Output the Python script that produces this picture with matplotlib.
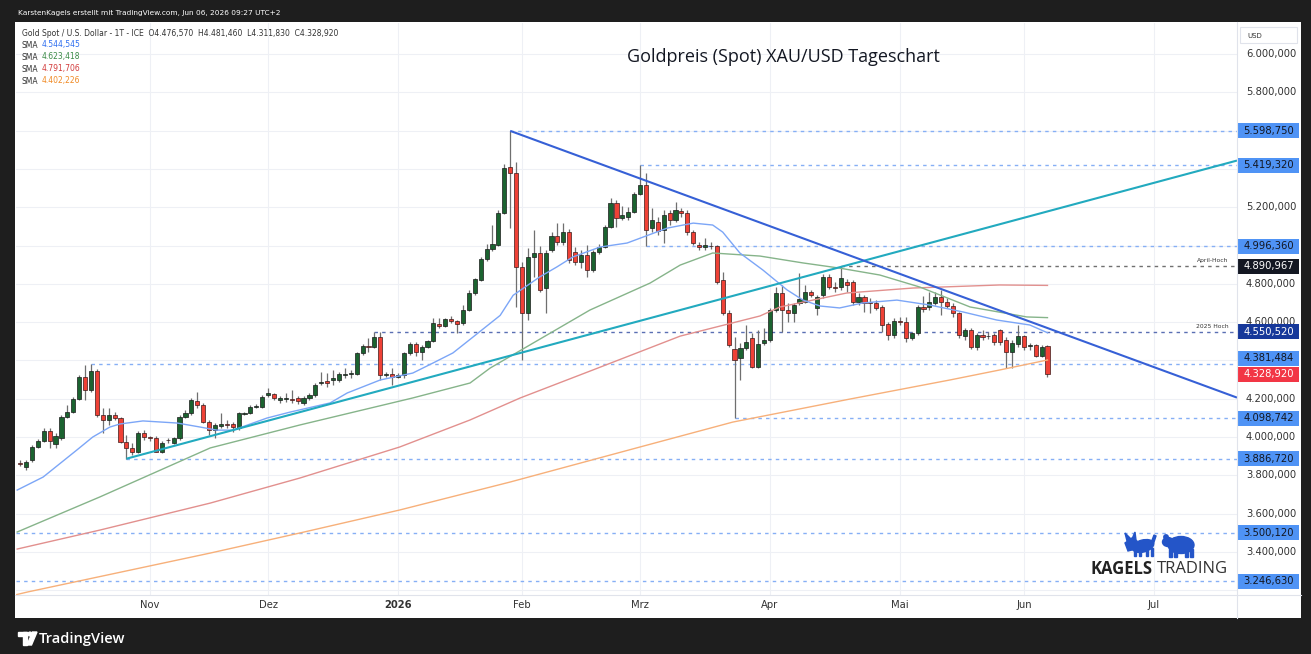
import numpy as np
import pandas as pd
import matplotlib
matplotlib.use("Agg")
import matplotlib.pyplot as plt
from matplotlib.patches import Rectangle, Polygon, Ellipse, Circle
from matplotlib.transforms import blended_transform_factory

W, H, DPI = 1311, 654, 100

# ---------------- data ----------------
holidays = ["2025-12-25", "2026-01-01"]
first_bar = "2025-10-02"
last_bar = "2026-06-05"

opens = [
    3866, 3843, 3880, 3948, 3979, 4031, 3963, 3995, 4104, 4130, 4198, 4313, 4245, 4345, 4115, 4089, 4115, 4099, 3974, 3942, 3922, 4021,
    4000, 3995, 3922, 3985, 3969, 3995, 4104, 4125, 4188, 4167, 4078, 4036, 4057, 4066, 4068, 4047, 4120, 4125, 4157, 4157,
    4219, 4224, 4193, 4200, 4198, 4204, 4177, 4204, 4219, 4282, 4292, 4298, 4298, 4324, 4329, 4329, 4439, 4475, 4470, 4522, 4324, 4329,
    4313, 4324, 4439, 4486, 4444, 4470, 4501, 4590, 4580, 4616, 4606, 4595, 4665, 4752, 4820, 4930, 4982, 5003, 5170, 5410, 5379,
    4888, 4648, 4940, 4961, 4778, 4976, 5050, 5018, 5070, 4966, 4914, 4950, 4872, 4966, 4992, 5097, 5222, 5144, 5149, 5175,
    5269, 5316, 5091, 5123, 5081, 5170, 5133, 5180, 5170, 5070, 5003, 4992, 5000, 4997, 4820, 4648, 4460, 4412, 4465, 4517, 4366, 4491,
    4507, 4663, 4752, 4663, 4648, 4700, 4705, 4757, 4674, 4742, 4836, 4783, 4783, 4809, 4809, 4705, 4731, 4705, 4700, 4679, 4590, 4533,
    4602, 4600, 4517, 4543, 4679, 4679, 4700, 4731, 4705, 4684, 4648, 4527, 4559, 4470, 4533, 4525, 4533, 4559, 4507, 4444, 4486,
    4527, 4475, 4480, 4423, 4476.57,
]
highs = [
    3880, 3880, 3958, 3990, 4047, 4047, 4021, 4115, 4167, 4209, 4324, 4376, 4381.484, 4355, 4151, 4151, 4130, 4104, 4010, 3969, 4031, 4036,
    4005, 4005, 3979, 3995, 4000, 4115, 4141, 4204, 4235, 4177, 4089, 4073, 4125, 4089, 4078, 4130, 4130, 4167, 4170, 4219,
    4256, 4230, 4214, 4230, 4245, 4214, 4214, 4230, 4282, 4339, 4334, 4350, 4339, 4360, 4350, 4444, 4486, 4517, 4550.52, 4548, 4339, 4360,
    4334, 4444, 4496, 4496, 4480, 4507, 4621, 4621, 4621, 4630, 4611, 4690, 4768, 4830, 4940, 5008, 5107, 5185, 5425, 5598.75, 5436,
    4914, 4987, 5081, 4997, 4976, 5070, 5117, 5117, 5086, 4992, 4976, 5003, 4976, 5008, 5107, 5248, 5238, 5206, 5201, 5279,
    5419.32, 5379, 5196, 5149, 5185, 5185, 5227, 5196, 5185, 5081, 5018, 5039, 5020, 5003, 4862, 4663, 4522, 4491, 4585, 4543, 4559, 4569,
    4674, 4783, 4794, 4700, 4700, 4856, 4794, 4768, 4742, 4851, 4851, 4809, 4890.967, 4825, 4820, 4752, 4742, 4726, 4715, 4689, 4600, 4621,
    4627, 4627, 4548, 4689, 4736, 4757, 4757, 4768, 4726, 4700, 4653, 4569, 4569, 4543, 4559, 4548, 4543, 4564, 4522, 4507, 4585,
    4533, 4491, 4486, 4480, 4481.46,
]
lows = [
    3850, 3830, 3869, 3942, 3974, 3942, 3942, 3984, 4099, 4125, 4193, 4193, 4235, 4104, 4021, 4063, 4089, 3969, 3886.72, 3906, 3917, 3984,
    3979, 3920, 3918, 3969, 3965, 3984, 4099, 4115, 4151, 4073, 4010, 3995, 4047, 4047, 4026, 4036, 4115, 4120, 4150, 4151,
    4209, 4193, 4177, 4183, 4177, 4172, 4167, 4193, 4209, 4271, 4261, 4271, 4287, 4308, 4308, 4324, 4428, 4444, 4465, 4298, 4313, 4271,
    4308, 4308, 4428, 4423, 4402, 4465, 4496, 4569, 4575, 4595, 4543, 4585, 4658, 4742, 4815, 4920, 4971, 4997, 5165, 5091, 4679,
    4402, 4611, 4836, 4757, 4648, 4966, 5003, 5003, 4909, 4898, 4882, 4836, 4862, 4956, 4987, 5091, 5097, 5133, 5133, 5170,
    5264, 4996.36, 5070, 5055, 5013, 5107, 5123, 5149, 5055, 5003, 4976, 4976, 4980, 4799, 4637, 4470, 4098.742, 4298, 4454, 4360, 4360, 4480,
    4496, 4653, 4548, 4600, 4600, 4689, 4700, 4731, 4637, 4726, 4773, 4757, 4768, 4757, 4689, 4689, 4653, 4648, 4663, 4548, 4507, 4517,
    4585, 4496, 4507, 4533, 4653, 4663, 4689, 4637, 4674, 4627, 4517, 4507, 4460, 4454, 4507, 4512, 4480, 4480, 4360, 4360, 4470,
    4454, 4454, 4418, 4418, 4311.83,
]
closes = [
    3858, 3869, 3948, 3979, 4031, 3979, 4005, 4104, 4130, 4198, 4313, 4245, 4345, 4115, 4089, 4115, 4099, 3974, 3942, 3922, 4021, 4000,
    3995, 3922, 3969, 3982, 3995, 4104, 4125, 4193, 4167, 4078, 4036, 4063, 4068, 4064, 4052, 4125, 4125, 4157, 4160, 4209,
    4230, 4204, 4204, 4204, 4193, 4188, 4204, 4219, 4271, 4287, 4282, 4308, 4329, 4329, 4331, 4439, 4475, 4470, 4522, 4324, 4329, 4313,
    4324, 4439, 4486, 4444, 4470, 4501, 4595, 4580, 4616, 4606, 4590, 4665, 4752, 4825, 4930, 4982, 5008, 5170, 5405, 5379, 4888,
    4648, 4940, 4961, 4768, 4961, 5050, 5018, 5070, 4924, 4914, 4950, 4872, 4966, 4992, 5097, 5222, 5144, 5159, 5175, 5269,
    5316, 5081, 5133, 5076, 5159, 5133, 5185, 5170, 5070, 5013, 4992, 5003, 4995, 4809, 4648, 4480, 4402, 4465, 4496, 4366, 4486, 4507,
    4663, 4752, 4663, 4648, 4689, 4721, 4757, 4742, 4731, 4836, 4783, 4778, 4830, 4794, 4705, 4731, 4700, 4700, 4674, 4585, 4533, 4606,
    4599, 4517, 4543, 4679, 4668, 4705, 4731, 4705, 4684, 4648, 4533, 4559, 4470, 4533, 4522, 4530, 4496, 4496, 4444, 4491, 4527,
    4470, 4480, 4423, 4470, 4328.92,
]

# moving averages (bar position, value)
sma20_pos = [0.5, 4.9, 10.6, 13.3, 16.2, 17.9, 21.8, 27.6, 31.5, 34.3, 37.1, 42.8, 46.7, 53.5, 56.4, 62, 67.5, 70.9, 74.3,
             77.7, 82.3, 84.5, 89, 91.9, 94.6, 99.2, 103.8, 106.5, 110.6, 115, 118.3, 120, 122.9, 126.8, 130.9, 133.6,
             136.5, 139.8, 143.7, 149.5, 155.1, 160.7, 166.4, 172, 175]
sma20_val = [3723, 3791, 3932, 4000, 4052, 4068, 4084, 4073, 4052, 4036, 4036, 4099, 4130, 4178, 4230, 4298, 4334, 4386, 4439,
             4522, 4635, 4740, 4836, 4888, 4940, 4992, 5013, 5044, 5091, 5117, 5107, 5070, 4961, 4872, 4768, 4715,
             4684, 4674, 4700, 4715, 4689, 4653, 4611, 4585, 4544.545]
sma50_pos = [0.5, 14.5, 33.2, 48.4, 67.5, 77.2, 80.6, 97.5, 107.7, 112.8, 118.3, 126.3, 133.6, 139.8, 146.6, 153.4, 161.9, 171.5, 175]
sma50_val = [3504, 3687, 3943, 4063, 4204, 4282, 4360, 4663, 4804, 4898, 4961, 4945, 4909, 4882, 4846, 4783, 4679, 4627, 4623.418]
sma100_pos = [0.5, 14.5, 33.2, 48.4, 65.3, 77.2, 85.7, 98, 112.8, 126.3, 129.7, 141, 152.2, 166.9, 175]
sma100_val = [3415, 3514, 3655, 3786, 3948, 4089, 4204, 4350, 4527, 4632, 4679, 4752, 4778, 4794, 4791.706]
sma200_pos = [0.1, 2.3, 33.2, 48.4, 65.3, 84, 106, 121.7, 141.5, 158.5, 166.9, 175]
sma200_val = [3175, 3191, 3394, 3499, 3619, 3765, 3948, 4078, 4198, 4298, 4350, 4402.226]

# drawn trendlines (anchor date, price)
trend_down = [("2026-01-29", 5598.75), ("2026-06-05", 4569.0)]
trend_up = [("2025-10-28", 3886.72), ("2026-06-05", 5178.0)]

# horizontal levels
blue_levels = [5598.750, 5419.320, 4996.360, 4381.484, 4098.742, 3886.720, 3500.120, 3246.630]
blue_level_from = ["2026-01-29", "2026-03-02", "2026-03-03", "2025-10-20", "2026-03-24", "2025-10-28", None, None]
april_high, april_high_from, april_high_text = 4890.967, "2026-04-17", "April-Hoch"
high_2025, high_2025_from, high_2025_text = 4550.520, "2025-12-26", "2025 Hoch"

month_names = {1: "Jan", 2: "Feb", 3: "Mrz", 4: "Apr", 5: "Mai", 6: "Jun", 7: "Jul",
               8: "Aug", 9: "Sep", 10: "Okt", 11: "Nov", 12: "Dez"}
title = "Goldpreis (Spot) XAU/USD Tageschart"
header = "KarstenKagels erstellt mit TradingView.com, Jun 06, 2026 09:27 UTC+2"
symbol = "Gold Spot / U.S. Dollar - 1T - ICE"

# ---------------- helpers ----------------
def de(v):
    s = f"{v:,.3f}"
    return s.replace(",", "X").replace(".", ",").replace("X", ".")

days = pd.bdate_range("2025-10-01", "2026-07-31")
days = days[~days.isin(pd.to_datetime(holidays))]
pos_of = {d: i for i, d in enumerate(days)}
bar_days = days[(days >= pd.Timestamp(first_bar)) & (days <= pd.Timestamp(last_bar))]
n = min(len(bar_days), len(opens))
x = np.array([pos_of[d] for d in bar_days[:n]], float)
O = np.array(opens[:n], float); Hh = np.array(highs[:n], float)
L = np.array(lows[:n], float); C = np.array(closes[:n], float)

def dpos(s):
    return pos_of[pd.Timestamp(s)]

# ---------------- figure ----------------
fig = plt.figure(figsize=(W / DPI, H / DPI), dpi=DPI, facecolor="#1e1e1e")
fig.add_artist(Rectangle((15 / W, 1 - 618 / H), (1301 - 15) / W, (618 - 22) / H,
                         transform=fig.transFigure, facecolor="white", edgecolor="none", zorder=-5))

PL, PR, PT, PB = 16, 1237, 23, 595
ax = fig.add_axes([PL / W, 1 - PB / H, (PR - PL) / W, (PB - PT) / H])
ax.set_facecolor("white")
for s in ax.spines.values():
    s.set_visible(False)
ax.set_xticks([]); ax.set_yticks([])
XMIN, XMAX = 0.3, 207.1
YMIN, YMAX = 3175, 6162
ax.set_xlim(XMIN, XMAX)
ax.set_ylim(YMIN, YMAX)
upp = (YMAX - YMIN) / (PB - PT)   # price units per pixel

# grid
for p in range(3200, 6001, 200):
    ax.axhline(p, color="#eef0f5", lw=0.8, zorder=0)
ser = pd.Series(np.arange(len(days)), index=days)
month_first = ser.groupby([days.year, days.month]).first()
tick_pos, tick_lab = [], []
for (yr, mo), p in month_first.items():
    if XMIN + 3 < p < XMAX:
        tick_pos.append(p)
        tick_lab.append(str(yr) if mo == 1 else month_names[mo])
for p in tick_pos:
    ax.axvline(p, color="#eef0f5", lw=0.8, zorder=0)

# dashed horizontal levels
for lv, frm in zip(blue_levels, blue_level_from):
    x0 = XMIN if frm is None else dpos(frm)
    ax.hlines(lv, x0, XMAX, colors="#86aff5", lw=1.0, linestyles=(0, (2.5, 3)), zorder=1)
ax.hlines(april_high, dpos(april_high_from), XMAX, colors="#707070", lw=1.0, linestyles=(0, (2.5, 3)), zorder=1)
ax.hlines(high_2025, dpos(high_2025_from), XMAX, colors="#5a6fb3", lw=1.0, linestyles=(0, (2.5, 3)), zorder=1)
ax.text(XMAX - 1.5, april_high + 3 * upp, april_high_text, ha="right", va="bottom", fontsize=4.3, color="#333333", zorder=2)
ax.text(XMAX - 1.5, high_2025 + 3 * upp, high_2025_text, ha="right", va="bottom", fontsize=4.3, color="#333333", zorder=2)

# candles
up = C >= O
ax.vlines(x, L, Hh, colors="#6f6f6f", lw=0.9, zorder=3)
bb = np.minimum(O, C); bh = np.maximum(np.abs(C - O), 0.9 * upp)
ax.bar(x[up], bh[up], bottom=bb[up], width=0.7, color="#1b6330", edgecolor="#1a1a1a", linewidth=0.5, zorder=4)
ax.bar(x[~up], bh[~up], bottom=bb[~up], width=0.7, color="#ef4136", edgecolor="#3a1a1a", linewidth=0.5, zorder=4)

# moving averages
ax.plot(sma200_pos, sma200_val, color="#f7b07a", lw=1.0, zorder=5)
ax.plot(sma100_pos, sma100_val, color="#e2908e", lw=1.0, zorder=5)
ax.plot(sma50_pos, sma50_val, color="#86b48a", lw=1.0, zorder=5)
ax.plot(sma20_pos, sma20_val, color="#7ca6f7", lw=1.0, zorder=5)

# trendlines extended to the right edge
def ray(pts, color):
    (d0, p0), (d1, p1) = pts
    x0, x1 = dpos(d0), dpos(d1)
    k = (p1 - p0) / (x1 - x0)
    ax.plot([x0, XMAX], [p0, p0 + k * (XMAX - x0)], color=color, lw=1.5, zorder=6, solid_capstyle="butt")

ray(trend_up, "#22aabf")
ray(trend_down, "#3660d6")

# ---------------- price scale ----------------
blend = blended_transform_factory(ax.transAxes, ax.transData)
fx = lambda px: (px - PL) / (PR - PL)
box_levels = [(v, "#4f93f5", "#131722") for v in blue_levels]
box_levels += [(april_high, "#131722", "white"), (high_2025, "#16389a", "white"), (closes[-1], "#f23645", "white")]
for p in range(3400, 6001, 200):
    if min(abs(p - b[0]) for b in box_levels) < 40:
        continue
    ax.text(fx(1271), p, de(p), transform=blend, ha="center", va="center", fontsize=7.2,
            color="#333333", clip_on=False, zorder=6)
for v, fc, tc in box_levels:
    yc = v
    if abs(v - 4381.484) < 1e-6:
        yc = v + 5.5 * upp          # pushed above the last-price label
    ax.add_patch(Rectangle((fx(1238), yc - 7.5 * upp), fx(1299) - fx(1238), 15 * upp, transform=blend,
                           facecolor=fc, edgecolor="none", clip_on=False, zorder=7))
    ax.text(fx(1268.5), yc, de(v), transform=blend, ha="center", va="center", fontsize=7.2,
            color=tc, clip_on=False, zorder=8)

# time scale
tblend = blended_transform_factory(ax.transData, ax.transAxes)
for p, lab in zip(tick_pos, tick_lab):
    ax.text(p, -10 / (PB - PT), lab, transform=tblend, ha="center", va="center", fontsize=7.2,
            color="#333333", fontweight="bold" if lab.isdigit() else "normal", clip_on=False)

# ---------------- overlay (pixel coordinates) ----------------
ov = fig.add_axes([0, 0, 1, 1], zorder=10)
ov.set_xlim(0, W); ov.set_ylim(H, 0); ov.axis("off"); ov.patch.set_alpha(0)

ov.plot([PR, PR], [22, 618], color="#e0e3eb", lw=0.8)
ov.plot([15, 1301], [PB, PB], color="#e0e3eb", lw=0.8)

ov.text(18, 13, header, color="white", fontsize=5.3, va="center", ha="left")
ov.text(22, 33, f"{symbol}  O{de(opens[-1])}  H{de(highs[-1])}  L{de(lows[-1])}  C{de(closes[-1])}",
        color="#333333", fontsize=5.5, va="center")
for k, (val, col) in enumerate([(sma20_val[-1], "#2f6ff0"), (sma50_val[-1], "#3b8b47"),
                                (sma100_val[-1], "#d23b3b"), (sma200_val[-1], "#f08a24")]):
    ov.text(22, 45 + 12 * k, "SMA", color="#333333", fontsize=5.5, va="center")
    ov.text(42, 45 + 12 * k, de(val), color=col, fontsize=5.5, va="center")

ov.text(783, 57, title, ha="center", va="center", fontsize=13, color="#131722", family="Open Sans")

ov.add_patch(Rectangle((1240, 27), 57, 16, facecolor="white", edgecolor="#e0e3eb", lw=0.8))
ov.text(1247, 35.5, "USD", fontsize=5, color="#333333", va="center")

# Kagels Trading logo
ov.text(1090, 569, "KAGELS", fontsize=12, fontweight="bold", color="#222222", va="center", family="Open Sans")
ov.text(1157, 569, "TRADING", fontsize=12, color="#333333", va="center", family="Open Sans")
blue = "#2455c8"
ov.add_patch(Ellipse((1143, 546), 22, 12, angle=-15, color=blue))
ov.add_patch(Polygon([(1125, 543), (1132, 538), (1137, 541), (1136, 549), (1128, 551)], color=blue))
ov.add_patch(Polygon([(1127, 541), (1125, 533), (1131, 539)], color=blue))
ov.add_patch(Polygon([(1132, 539), (1135, 532), (1136, 540)], color=blue))
ov.add_patch(Polygon([(1151, 543), (1154, 535), (1156, 536), (1153, 545)], color=blue))
for lx in (1134, 1139, 1146, 1151):
    ov.add_patch(Rectangle((lx, 548), 2.2, 8, color=blue))
ov.add_patch(Ellipse((1181, 545), 26, 17, color=blue))
ov.add_patch(Ellipse((1168, 542), 11, 9, color=blue))
ov.add_patch(Circle((1166, 537), 2.2, color=blue))
for lx in (1169, 1174, 1185, 1190):
    ov.add_patch(Rectangle((lx, 549), 3, 7.5, color=blue))

# TradingView footer
ov.add_patch(Rectangle((18, 632), 9, 4, color="white"))
ov.add_patch(Rectangle((23, 632), 4, 13, color="white"))
ov.add_patch(Circle((30, 634), 1.9, color="white"))
ov.add_patch(Polygon([(32.5, 632), (37, 632), (31.5, 645), (27, 645)], color="white"))
ov.text(39, 639, "TradingView", color="white", fontsize=10.5, va="center", family="Open Sans", fontweight="semibold")

fig.savefig("out.png", dpi=DPI, facecolor=fig.get_facecolor())
